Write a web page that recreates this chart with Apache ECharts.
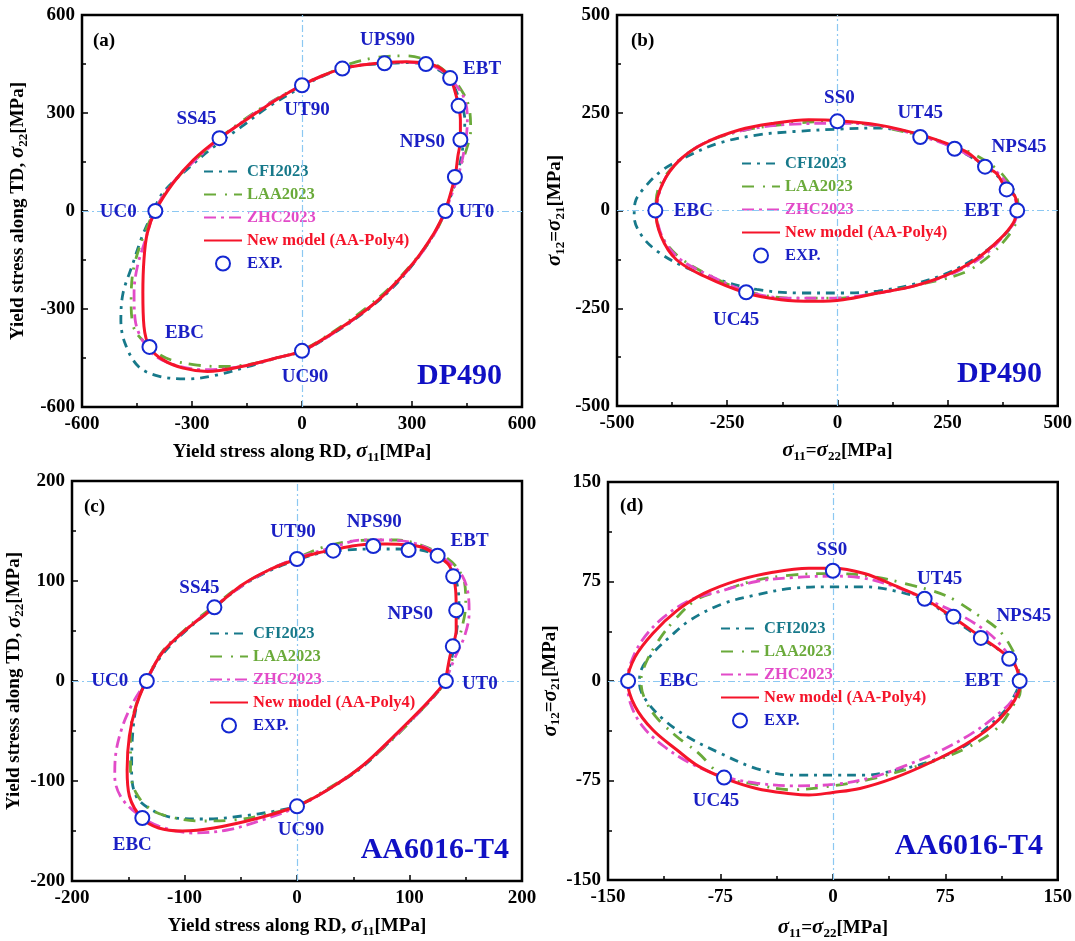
<!DOCTYPE html>
<html><head><meta charset="utf-8">
<script src="https://cdn.jsdelivr.net/npm/echarts@6/dist/echarts.min.js"></script>
<style>html,body{margin:0;padding:0;background:#fff}#c{width:1075px;height:941px}</style>
</head><body><div id="c"></div>
<script>
// ---------------- DATA ----------------
// Panel (a) DP490, sigma11 vs sigma22
const aCFI = [[391,0],[420,95],[439,197],[444,279],[430,340],[397,411],[341,447],[285,454],[210,450],[135,442],[55,412],[-6,376],[-90,320],[-165,258],[-240,197],[-315,126],[-380,55],[-408,-7],[-436,-78],[-464,-170],[-488,-251],[-494,-333],[-483,-404],[-446,-476],[-389,-506],[-314,-514],[-240,-504],[-146,-476],[-71,-450],[0,-430],[69,-386],[163,-316],[238,-245],[303,-163],[360,-70],[391,0]];
const aLAA = [[391,0],[425,116],[448,187],[460,248],[455,320],[434,371],[397,422],[350,457],[285,475],[210,471],[135,452],[60,416],[0,386],[-90,330],[-165,274],[-230,218],[-296,151],[-361,75],[-403,-2],[-436,-88],[-460,-180],[-466,-272],[-460,-353],[-427,-404],[-371,-450],[-296,-470],[-221,-476],[-127,-466],[0,-425],[79,-374],[163,-307],[238,-236],[313,-144],[365,-63],[391,0]];
const aZHC = [[391,0],[425,105],[444,197],[451,279],[444,340],[416,391],[378,432],[331,452],[266,455],[200,452],[116,437],[51,411],[0,385],[-80,335],[-155,279],[-225,220],[-296,151],[-357,80],[-402,0],[-427,-88],[-449,-170],[-458,-251],[-455,-333],[-436,-394],[-399,-445],[-333,-476],[-258,-486],[-165,-476],[-71,-450],[0,-428],[79,-379],[163,-313],[238,-241],[308,-155],[362,-68],[391,0]];
const aNEW = [[391,0],[417,104],[425,167],[432,218],[432,279],[427,322],[416,371],[404,407],[378,437],[338,452],[285,457],[225,454],[163,447],[110,436],[55,414],[0,385],[-71,340],[-146,284],[-225,223],[-296,157],[-352,85],[-400,0],[-422,-68],[-431,-149],[-434,-251],[-431,-353],[-416,-416],[-380,-455],[-324,-481],[-258,-491],[-165,-476],[-71,-450],[0,-428],[69,-384],[163,-313],[228,-252],[303,-160],[360,-68],[391,0]];
const aEXP = [[-400,0],[391,0],[0,385],[-225,223],[-416,-416],[0,-428],[404,407],[110,436],[225,452],[338,450],[427,322],[432,218],[417,104]];
const aEXPNames = ['UC0','UT0','UT90','SS45','EBC','UC90','EBT','','UPS90','','','NPS0',''];

// Panel (b) DP490, sigma11=sigma22 vs sigma12
const bCFI = [[408,0],[403,36],[376,74],[336,113],[265,160],[187,194],[92,211],[0,208],[-97,202],[-183,193],[-270,172],[-341,138],[-396,104],[-435,62],[-459,20],[-461,-15],[-443,-66],[-404,-108],[-349,-143],[-270,-177],[-183,-202],[-81,-211],[13,-211],[92,-206],[171,-189],[250,-160],[320,-117],[376,-66],[403,-27],[408,0]];
const bLAA = [[411,0],[407,36],[387,74],[360,108],[297,151],[210,185],[92,215],[0,228],[-97,223],[-207,206],[-302,172],[-365,121],[-404,62],[-412,0],[-398,-66],[-357,-121],[-286,-168],[-207,-206],[-105,-224],[-2,-224],[92,-211],[187,-189],[285,-160],[344,-117],[387,-66],[407,-27],[411,0]];
const bZHC = [[408,0],[400,41],[364,96],[328,121],[265,160],[187,191],[92,217],[0,223],[-97,221],[-191,210],[-286,181],[-349,138],[-392,79],[-410,0],[-398,-66],[-361,-121],[-294,-164],[-207,-206],[-113,-224],[-10,-224],[92,-211],[187,-189],[273,-155],[336,-112],[380,-61],[403,-27],[408,0]];
const bNEW = [[408,0],[403,36],[384,54],[360,96],[335,112],[297,147],[266,164],[188,194],[92,219],[0,230],[-65,232],[-144,223],[-223,206],[-302,172],[-357,130],[-396,70],[-412,0],[-400,-66],[-365,-126],[-302,-168],[-207,-211],[-128,-228],[-50,-232],[13,-228],[92,-211],[171,-194],[250,-164],[313,-126],[368,-74],[399,-32],[408,0]];
const bEXP = [[-413,0],[0,228],[188,188],[266,158],[335,112],[384,54],[408,0],[-207,-209]];
const bEXPNames = ['EBC','SS0','UT45','','NPS45','','EBT','UC45'];

// Panel (c) AA6016-T4, sigma11 vs sigma22
const cCFI = [[132,0],[138,25],[142,51],[144,78],[142,98],[136,115],[125,125],[110,131],[89,132],[67,132],[43,131],[21,128],[0,121],[-25,110],[-49,95],[-74,73],[-99,50],[-120,26],[-134,0],[-142,-22],[-146,-52],[-147,-89],[-143,-115],[-129,-129],[-108,-137],[-80,-138],[-49,-135],[-19,-130],[0,-125],[27,-109],[58,-86],[89,-53],[113,-26],[126,-10],[132,0]];
const cLAA = [[132,0],[139,25],[147,55],[150,78],[149,98],[141,115],[129,126],[110,136],[89,141],[67,141],[43,139],[21,133],[0,123],[-25,111],[-49,96],[-74,75],[-99,52],[-120,29],[-134,0],[-143,-24],[-148,-52],[-148,-89],[-143,-112],[-129,-129],[-108,-137],[-86,-140],[-56,-139],[-22,-132],[0,-125],[27,-108],[58,-85],[89,-54],[113,-26],[126,-10],[132,0]];
const cZHC = [[132,0],[141,25],[149,45],[153,68],[152,88],[147,105],[138,116],[126,126],[107,137],[80,141],[58,141],[30,133],[0,123],[-25,111],[-49,95],[-74,74],[-99,51],[-120,28],[-134,0],[-146,-22],[-155,-45],[-161,-72],[-162,-95],[-157,-115],[-143,-132],[-123,-145],[-92,-152],[-62,-149],[-31,-139],[0,-126],[27,-109],[58,-85],[89,-53],[113,-26],[126,-9],[132,0]];
const cNEW = [[132,0],[136,25],[138.5,35],[141.5,51],[141.5,71],[141,91],[139,105],[135,116],[125,125],[113,133],[99,136],[80,137],[68,137],[49,135],[32,131],[18,128],[0,122],[-25,111],[-49,96],[-73,74],[-99,51],[-120,28],[-134,0],[-143,-25],[-149,-55],[-151,-89],[-149,-115],[-138,-137],[-123,-147],[-102,-150],[-74,-147],[-34,-137],[0,-125],[27,-109],[58,-85],[89,-52],[113,-25],[126,-9],[132,0]];
const cEXP = [[-133.5,0],[132.3,0],[0,122],[-73.4,73.7],[-137.5,-137],[0,-125.3],[32.2,130.3],[67.8,135],[99.2,131],[125,125.3],[138.8,104.7],[141.5,70.7],[138.5,34.7]];
const cEXPNames = ['UC0','UT0','UT90','SS45','EBC','UC90','','NPS90','','EBT','','NPS0',''];

// Panel (d) AA6016-T4, sigma11=sigma22 vs sigma12
const dCFI = [[125,0],[122,11],[115,20],[99,32],[81,46],[61,61],[41,68],[21,71],[0,71],[-26,70],[-51,65],[-74,58],[-95,46],[-109,33],[-120,21],[-128,8],[-129,-2],[-125,-14],[-113,-29],[-97,-42],[-76,-54],[-51,-66],[-26,-71],[0,-71],[21,-71],[39,-68],[64,-61],[88,-49],[99,-39],[115,-22],[122,-9],[125,0]];
const dLAA = [[125,0],[123,13],[120,23],[111,38],[95,51],[76,64],[53,72],[25,79],[0,81],[-26,80],[-51,76],[-74,68],[-90,62],[-104,48],[-116,31],[-125,13],[-128,0],[-126,-12],[-118,-27],[-104,-42],[-90,-54],[-73,-72],[-51,-78],[-28,-82],[0,-79],[25,-74],[48,-67],[76,-57],[95,-47],[111,-34],[120,-19],[125,-8],[125,0]];
const dZHC = [[125,0],[122,12],[115,23],[104,36],[83,51],[61,62],[39,72],[18,78],[0,79],[-26,78],[-51,75],[-74,68],[-95,61],[-113,48],[-127,31],[-135,13],[-137,0],[-135,-17],[-127,-34],[-113,-49],[-95,-62],[-73,-72],[-51,-77],[-26,-79],[0,-78],[25,-73],[48,-64],[71,-53],[92,-40],[108,-27],[120,-14],[125,0]];
const dNEW = [[125,0],[122,11],[118,17],[108,26],[99,33],[80,48],[61,62],[41,72],[21,81],[0,85],[-16,85],[-40,82],[-63,76],[-86,66],[-104,53],[-120,36],[-132,18],[-137,0],[-132,-19],[-120,-37],[-104,-52],[-90,-64],[-73,-73],[-51,-81],[-28,-85],[-16,-86],[0,-84],[18,-81],[41,-73],[64,-62],[88,-48],[106,-34],[118,-20],[124,-8],[125,0]];
const dEXP = [[-136.6,0],[0,83.1],[61.2,62],[80.4,48.5],[98.7,32.5],[117.6,16.7],[124.6,0],[-72.6,-72.8]];
const dEXPNames = ['EBC','SS0','UT45','','NPS45','','EBT','UC45'];

// Axis ranges / tick labels
const aRange = {min:-600, max:600, interval:300};
const bRange = {min:-500, max:500, interval:250};
const cRange = {min:-200, max:200, interval:100};
const dRange = {min:-150, max:150, interval:75};

const seriesNames = ['CFI2023','LAA2023','ZHC2023','New model (AA-Poly4)','EXP.'];
const panelLetters = ['(a)','(b)','(c)','(d)'];
const materials = ['DP490','DP490','AA6016-T4','AA6016-T4'];

// ---------------- STYLE ----------------
const FONT = '"Liberation Serif", "Times New Roman", serif';
const COL = {cfi:'#17798a', laa:'#6aaa3a', zhc:'#e24bc8', neu:'#f5142a', exp:'#1428d2', txt:'#1a1fc4'};
const DASH = {cfi:[9,6,3,6], laa:[12,9,2,7], zhc:[12,5,3,5]};

const xTitle1 = '{b|Yield stress along RD, }{s|σ}{sub|11}{b|[MPa]}';
const yTitle1 = '{b|Yield stress along TD, }{s|σ}{sub|22}{b|[MPa]}';
const xTitle2 = '{s|σ}{sub|11}{b|=}{s|σ}{sub|22}{b|[MPa]}';
const yTitle2 = '{s|σ}{sub|12}{b|=}{s|σ}{sub|21}{b|[MPa]}';

const panels = [
  {grid:{left:82, top:15, width:440, height:392}, range:aRange, xName:xTitle1, yName:yTitle1, xGap:33, yGap:52,
   curves:[aCFI,aLAA,aZHC,aNEW], exp:aEXP, names:aEXPNames,
   offsets:{UC0:[-37,1],UT0:[31,1],UT90:[5,25],SS45:[-23,-19],EBC:[35,-14],UC90:[3,26],EBT:[32,-9],UPS90:[3,-23],NPS0:[-38,2]},
   legend:{left:203, top:163}, letter:[93,41], mat:[502,376]},
  {grid:{left:617, top:15, width:444, height:391}, range:bRange, xName:xTitle2, yName:yTitle2, xGap:33, yGap:50,
   curves:[bCFI,bLAA,bZHC,bNEW], exp:bEXP, names:bEXPNames,
   offsets:{EBC:[38,1],SS0:[2,-23],UT45:[0,-24],NPS45:[34,-20],EBT:[-34,1],UC45:[-10,28]},
   legend:{left:741, top:155}, letter:[631,41], mat:[1042,374]},
  {grid:{left:72, top:481, width:450, height:400}, range:cRange, xName:xTitle1, yName:yTitle1, xGap:33, yGap:44,
   curves:[cCFI,cLAA,cZHC,cNEW], exp:cEXP, names:cEXPNames,
   offsets:{UC0:[-37,0],UT0:[34,3],UT90:[-4,-27],NPS90:[1,-24],EBT:[32,-15],NPS0:[-46,4],SS45:[-15,-19],EBC:[-10,27],UC90:[4,24]},
   legend:{left:209, top:625}, letter:[84,507], mat:[509,850]},
  {grid:{left:608, top:482, width:454, height:399}, range:dRange, xName:xTitle2, yName:yTitle2, xGap:36, yGap:42,
   curves:[dCFI,dLAA,dZHC,dNEW], exp:dEXP, names:dEXPNames,
   offsets:{EBC:[51,0],SS0:[-1,-21],UT45:[15,-20],NPS45:[43,-22],EBT:[-36,0],UC45:[-8,24]},
   legend:{left:720, top:620}, letter:[620,506], mat:[1043,846]}
];

const richTitle = {
  b:{fontFamily:FONT, fontWeight:'bold', fontSize:19, color:'#000'},
  s:{fontFamily:FONT, fontStyle:'italic', fontSize:21, color:'#000'},
  sub:{fontFamily:FONT, fontSize:13, color:'#000', padding:[11,0,0,0]}
};

function axis(i, r, name, gap, isY) {
  return {
    type:'value', gridIndex:i, min:r.min, max:r.max, interval:r.interval,
    axisLine:{show:true, onZero:false, lineStyle:{color:'#000', width:2}},
    axisTick:{show:true, inside:true, length:6, lineStyle:{color:'#000', width:1.5}},
    minorTick:{show:true, splitNumber:2, length:4, lineStyle:{color:'#000', width:1.5}},
    splitLine:{show:false},
    axisLabel:{color:'#000', fontFamily:FONT, fontWeight:'bold', fontSize:19, margin:isY?7:8, showMinLabel:true, showMaxLabel:true},
    name:name, nameLocation:'middle', nameGap:gap, nameRotate:isY?90:0,
    nameTextStyle:{fontFamily:FONT, fontWeight:'bold', fontSize:19, color:'#000', rich:richTitle}
  };
}

const grid=[], xAxis=[], yAxis=[], series=[], legend=[], graphic=[];
const keys = ['cfi','laa','zhc','neu'];
panels.forEach((p, i) => {
  grid.push(Object.assign({show:true, borderColor:'#000', borderWidth:2.5, containLabel:false}, p.grid));
  xAxis.push(axis(i, p.range, p.xName, p.xGap, false));
  yAxis.push(axis(i, p.range, p.yName, p.yGap, true));
  p.curves.forEach((cv, k) => {
    const key = keys[k];
    const s = {
      type:'line', name:seriesNames[k], xAxisIndex:i, yAxisIndex:i, data:cv,
      symbol:'none', smooth:0.35, animation:false, z: 2 + k,
      lineStyle:{color:COL[key], width: key==='neu' ? 3 : 2.8, type: key==='neu' ? 'solid' : DASH[key]},
      itemStyle:{color:COL[key]}
    };
    if (k === 0) {
      s.markLine = {silent:true, symbol:'none', animation:false, label:{show:false},
        lineStyle:{color:'#8cc8f2', width:1.2, type:[7,3,2,3]},
        data:[{xAxis:0},{yAxis:0}]};
    }
    series.push(s);
  });
  series.push({
    type:'scatter', name:seriesNames[4], xAxisIndex:i, yAxisIndex:i, z:10, animation:false,
    symbol:'circle', symbolSize:14,
    itemStyle:{color:'#fff', borderColor:COL.exp, borderWidth:2, opacity:1},
    label:{show:true, position:'inside', formatter:'{b}', color:COL.txt, fontFamily:FONT, fontWeight:'bold', fontSize:19},
    emphasis:{disabled:true},
    data:p.exp.map((v, j) => ({value:v, name:p.names[j], label:{offset:p.offsets[p.names[j]] || [0,0]}}))
  });
  legend.push({
    orient:'vertical', left:p.legend.left, top:p.legend.top, itemWidth:38, itemHeight:14, itemGap:6,
    padding:0, selectedMode:false,
    textStyle:{fontFamily:FONT, fontWeight:'bold', fontSize:16.5, lineHeight:16},
    data:[
      {name:seriesNames[0], textStyle:{color:COL.cfi}, itemStyle:{opacity:0}},
      {name:seriesNames[1], textStyle:{color:COL.laa}, itemStyle:{opacity:0}},
      {name:seriesNames[2], textStyle:{color:COL.zhc}, itemStyle:{opacity:0}},
      {name:seriesNames[3], textStyle:{color:COL.neu}, itemStyle:{opacity:0}},
      {name:seriesNames[4], textStyle:{color:COL.txt}}
    ]
  });
  graphic.push({type:'text', x:p.letter[0], y:p.letter[1], silent:true,
    style:{text:panelLetters[i], font:'bold 19px ' + FONT, fill:'#000', textAlign:'left', textVerticalAlign:'middle', align:'left', verticalAlign:'middle'}});
  graphic.push({type:'text', x:p.mat[0], y:p.mat[1], silent:true,
    style:{text:materials[i], font:'bold 30px ' + FONT, fill:'#1010c4', textAlign:'right', textVerticalAlign:'middle', align:'right', verticalAlign:'middle'}});
});

const chart = echarts.init(document.getElementById('c'), null, {renderer:'canvas'});
chart.setOption({backgroundColor:'#fff', animation:false, grid, xAxis, yAxis, series, legend, graphic});
</script></body></html>
